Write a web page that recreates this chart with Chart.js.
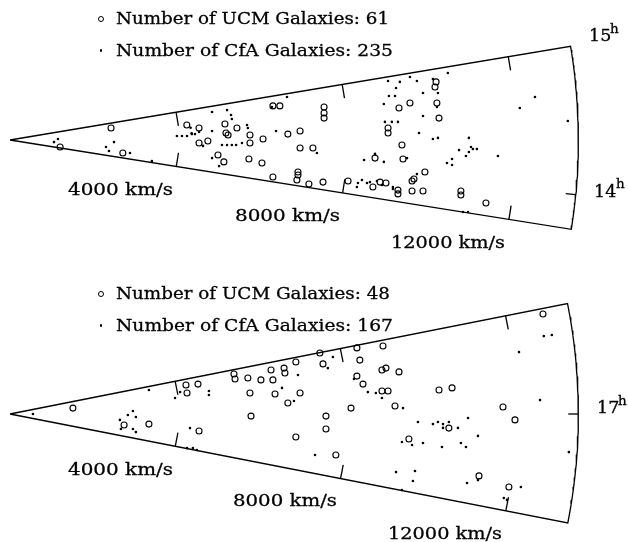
<!DOCTYPE html>
<html>
<head>
<meta charset="utf-8">
<title>UCM and CfA galaxies - cone diagrams</title>
<script src="https://cdn.jsdelivr.net/npm/chart.js@4.4.0/dist/chart.umd.min.js"></script>
<style>
  body { margin: 0; background: #fff; }
  #page { position: relative; width: 628px; height: 542px; overflow: hidden; }
  #page canvas { position: absolute; left: 0; }
  .lbl { position: absolute; font-family: "DejaVu Serif", serif; color: #000; white-space: pre;
         transform-origin: 0 0; -webkit-text-stroke: 0.3px #000; }
  .ring { position: absolute; width: 4.8px; height: 4.8px; border: 1.1px solid #000; border-radius: 50%; }
  .dot { position: absolute; width: 2.6px; height: 2.6px; background: #000; border-radius: 50%; }
</style>
</head>
<body>
<div id="page">
  <canvas id="topCanvas" width="628" height="271" style="top:0"></canvas>
  <canvas id="bottomCanvas" width="628" height="271" style="top:271px"></canvas>
</div>
<script>
// velocity ticks along the wedge edges (km/s)
const velocityTicks = [4000, 8000, 12000];
const velocityLabels = ["4000 km/s", "8000 km/s", "12000 km/s"];
const topHours = [15, 14];
const bottomHours = [17];
const topCounts = [61, 235];
const bottomCounts = [48, 167];

// galaxy positions in the cone plane, [x, y] in km/s (x along the wedge axis)
const topUCM = [
  [2400,285],[1190,-165],[2680,-310],[4200,355],[4490,285],[4700,-25],[4490,-70],[5105,380],
  [5390,285],[5130,165],[5180,120],[5700,120],[5700,-70],[6010,25],[6600,140],[6890,215],
  [6890,-190],[7195,-190],[4940,-355],[5080,-520],[5675,-450],[5985,-545],[6245,-880],[6840,-760],
  [6840,-830],[6815,-950],[7100,-1045],[7435,-1000],[8030,-975],[8620,-1115],[8790,-1000],[8930,-1020],
  [9215,-1190],[9215,-1280],[8670,-430],[9310,-120],[9335,-450],[8980,285],[8980,165],[6245,810],
  [6410,810],[7460,785],[7460,640],[7460,520],[9240,760],[10120,1380],[10095,1260],[10140,880],
  [10190,520],[9500,880],[9855,-760],[9550,-975],[9595,-925],[9810,-1210],[9550,-1210],[10710,-1210],
  [10710,-1305],[11305,-1495]
];
const topCfA = [
  [4290,290],[4315,160],[1045,-50],[1140,25],[2280,-165],[2350,-260],[2470,-50],[2850,-310],
  [3370,-500],[3965,95],[4085,95],[4205,95],[4320,140],[4395,140],[4490,190],[4585,-140],
  [6580,1020],[6220,785],[4800,665],[5155,710],[5250,595],[5270,500],[4800,215],[5630,355],
  [5650,285],[6320,215],[8980,1400],[9260,1380],[9170,1235],[9145,1045],[9000,1045],[8880,855],
  [8905,430],[9070,430],[9215,430],[9500,1495],[9665,1400],[10045,1450],[10400,1590],[9810,1115],
  [10165,1115],[10140,785],[9810,570],[9715,165],[12470,1020],[12110,760],[13250,450],[5035,-120],
  [5155,-120],[5270,-120],[5370,-120],[5510,-70],[4800,-430],[4965,-620],[7290,-310],[8410,-475],
  [8670,-330],[8880,-520],[9430,-430],[8265,-1020],[8240,-1115],[8360,-950],[8480,-1020],[8550,-1000],
  [8715,-975],[8835,-1070],[9095,-1115],[9095,-1165],[9260,-1235],[10045,25],[10165,50],[10900,50],
  [10665,-240],[10950,-165],[10995,-215],[11090,-215],[10900,-285],[10830,-380],[11590,-380],[10380,-545],
  [10500,-450],[10500,-595],[9665,-810],[10760,-1710],[10880,-1710]
];
const bottomUCM = [
  [1495,140],[2710,-260],[3300,-240],[4490,-405],[4180,690],[4465,710],[4205,500],[5320,950],
  [5345,830],[5650,855],[5960,810],[6200,1045],[6245,810],[6510,1090],[6530,975],[6790,1235],
  [7360,1450],[7435,1190],[5700,500],[6295,475],[6890,500],[6600,260],[8240,1570],[8860,1615],
  [8310,1280],[8835,1045],[8930,1090],[9240,1000],[8240,900],[8385,710],[8835,545],[8980,545],
  [8100,140],[9145,190],[12660,2375],[10190,570],[10500,620],[11710,165],[5725,-50],[7505,-50],
  [7505,-355],[6790,-545],[7740,-975],[11995,-140],[10425,-335],[9475,-595],[11140,-1470],[11850,-1735]
];
const bottomCfA = [
  [3300,570],[3920,380],[4040,520],[4725,545],[4725,450],[545,0],[2610,-140],[2635,-355],
  [2800,-25],[2920,70],[2990,-70],[2920,-355],[2990,-430],[4275,-335],[4205,-810],[4345,-810],
  [4440,-855],[6840,925],[7670,1355],[7550,1090],[6460,620],[6745,310],[8170,830],[8500,520],
  [8690,500],[8835,380],[9335,140],[12680,1850],[12870,1875],[12090,1470],[12590,330],[7245,-975],
  [9310,-665],[9170,-1380],[9310,-1805],[9690,-190],[10045,-240],[10165,-190],[10285,-240],[10285,-330],
  [10425,-190],[10640,-330],[10880,-95],[11115,-520],[9550,-735],[9810,-690],[10260,-785],[10710,-690],
  [10830,-785],[9620,-1355],[9570,-1590],[10855,-1640],[11115,-1570],[12135,-1735],[11730,-1995],[11805,-2040],
  [13275,-905]
];

// wedge geometry
const V_MAX = 13500;          // outer arc, km/s
const PX_PER_KMS = 0.0421;    // drawing scale
const APEX_X = 10;
const TICK_LEN = 330;         // km/s
const HOUR_TICK_LEN = 240;
const topWedge = { raMin: 13.764, raMax: 15.0, raMid: 14.367 };
const bottomWedge = { raMin: 16.263, raMax: 17.747, raMid: 17.0 };

function ang(ra, w) { return (ra - w.raMid) * 15 * Math.PI / 180; }

function outline(w) {
  const a0 = ang(w.raMax, w), a1 = ang(w.raMin, w);
  const pts = [{x: 0, y: 0}];
  for (let i = 0; i <= 48; i++) {
    const a = a0 + (a1 - a0) * i / 48;
    pts.push({x: V_MAX * Math.cos(a), y: V_MAX * Math.sin(a)});
  }
  pts.push({x: 0, y: 0});
  return pts;
}

function lineSet(pts) {
  return { data: pts, showLine: true, borderColor: "#000", borderWidth: 1.3,
           pointRadius: 0, fill: false, borderJoinStyle: "miter" };
}

function makeChart(canvas, w, hours, ucm, cfa, apexY) {
  const a0 = ang(w.raMax, w), a1 = ang(w.raMin, w);
  const datasets = [lineSet(outline(w))];
  velocityTicks.forEach(v => {
    const pu = {x: v * Math.cos(a0), y: v * Math.sin(a0)};
    datasets.push(lineSet([pu, {x: pu.x + TICK_LEN * Math.sin(a0), y: pu.y - TICK_LEN * Math.cos(a0)}]));
    const pl = {x: v * Math.cos(a1), y: v * Math.sin(a1)};
    datasets.push(lineSet([pl, {x: pl.x - TICK_LEN * Math.sin(a1), y: pl.y + TICK_LEN * Math.cos(a1)}]));
  });
  hours.forEach(h => {
    if (h <= w.raMin || h >= w.raMax) return;
    const a = ang(h, w);
    datasets.push(lineSet([
      {x: V_MAX * Math.cos(a), y: V_MAX * Math.sin(a)},
      {x: (V_MAX - HOUR_TICK_LEN) * Math.cos(a), y: (V_MAX - HOUR_TICK_LEN) * Math.sin(a)}
    ]));
  });
  datasets.push({ label: "CfA", data: cfa.map(p => ({x: p[0], y: p[1]})),
    pointRadius: 1.3, backgroundColor: "#000", borderWidth: 0 });
  datasets.push({ label: "UCM", data: ucm.map(p => ({x: p[0], y: p[1]})),
    pointRadius: 3, backgroundColor: "rgba(0,0,0,0)", borderColor: "#000", borderWidth: 1.1 });

  const k = PX_PER_KMS;
  return new Chart(canvas, {
    type: "scatter",
    data: { datasets: datasets },
    options: {
      responsive: false,
      animation: false,
      devicePixelRatio: 1,
      events: [],
      layout: { padding: 0, autoPadding: false },
      plugins: { legend: { display: false }, tooltip: { enabled: false } },
      scales: {
        x: { type: "linear", display: false, min: -APEX_X / k, max: (canvas.width - APEX_X) / k },
        y: { type: "linear", display: false, min: (apexY - canvas.height) / k, max: apexY / k }
      }
    }
  });
}

makeChart(document.getElementById("topCanvas"), topWedge, topHours, topUCM, topCfA, 140);
makeChart(document.getElementById("bottomCanvas"), bottomWedge, bottomHours, bottomUCM, bottomCfA, 143);

// text
const page = document.getElementById("page");
function addLabel(text, x, baseline, size, width) {
  const el = document.createElement("div");
  el.className = "lbl";
  el.textContent = text;
  el.style.fontSize = size + "px";
  el.style.lineHeight = size + "px";
  el.style.left = x + "px";
  el.style.top = (baseline - 0.846 * size) + "px";
  page.appendChild(el);
  if (width) {
    const nat = el.getBoundingClientRect().width;
    el.style.transform = "scaleX(" + (width / nat) + ")";
  }
}
function addMark(cls, x, y, d) {
  const el = document.createElement("div");
  el.className = cls;
  el.style.left = (x - d / 2) + "px";
  el.style.top = (y - d / 2) + "px";
  page.appendChild(el);
}

addMark("ring", 101, 19, 7);
addMark("dot", 101, 50.5, 2.6);
addLabel("Number of UCM Galaxies: " + topCounts[0], 116, 25, 17.5, 273);
addLabel("Number of CfA Galaxies: " + topCounts[1], 116, 56.7, 17.5, 277);
addMark("ring", 101, 294, 7);
addMark("dot", 101, 325.5, 2.6);
addLabel("Number of UCM Galaxies: " + bottomCounts[0], 116, 300, 17.5, 274);
addLabel("Number of CfA Galaxies: " + bottomCounts[1], 116, 331.7, 17.5, 277);

const topVelPos = [[68, 195.7, 105], [235, 222.3, 105], [391, 249, 114]];
const botVelPos = [[68, 475.7, 105], [233, 507.3, 104], [388, 540, 114]];
velocityLabels.forEach((t, i) => {
  addLabel(t, topVelPos[i][0], topVelPos[i][1], 17.5, topVelPos[i][2]);
  addLabel(t, botVelPos[i][0], botVelPos[i][1], 17.5, botVelPos[i][2]);
});

addLabel(String(topHours[0]), 589, 41.7, 17.5);
addLabel("h", 610, 33.3, 13.5);
addLabel(String(topHours[1]), 594, 197.7, 17.5);
addLabel("h", 616, 188.3, 13.5);
addLabel(String(bottomHours[0]), 597, 414, 17.5);
addLabel("h", 618, 405, 13.5);
</script>
</body>
</html>
